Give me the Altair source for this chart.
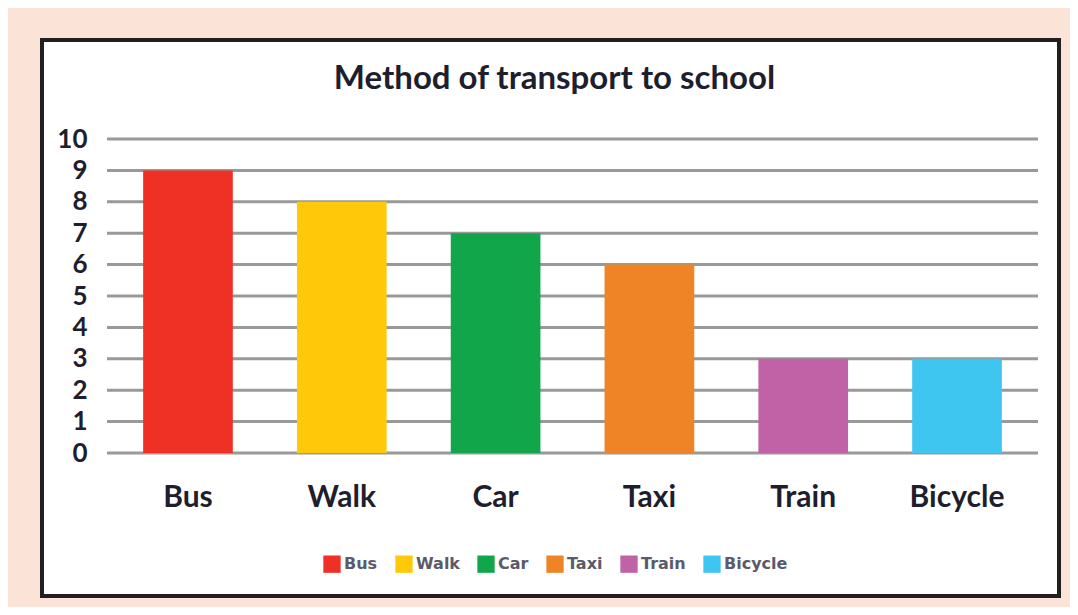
import altair as alt
import pandas as pd

categories = ["Bus", "Walk", "Car", "Taxi", "Train", "Bicycle"]
values = [9, 8, 7, 6, 3, 3]
colors = ["#ee3124", "#ffc90a", "#12a64b", "#ee8425", "#c062a5", "#3ec6f0"]
y_ticks = list(range(0, 11))

FONT = "Lato"
TEXT = "#1e1e2e"

df = pd.DataFrame({"cat": categories, "val": values})
grid_df = pd.DataFrame({"t": y_ticks})

yscale = alt.Scale(domain=[0, 10], nice=False)
yaxis = alt.Axis(
    title=None, values=y_ticks, domain=False, ticks=False, grid=False,
    labelFontSize=26, labelFont=FONT, labelFontWeight="bold",
    labelColor=TEXT, labelPadding=20, zindex=1,
)

frame = alt.Chart(pd.DataFrame({"a": [0]})).mark_rect(
    fill="white", stroke="#231f20", strokeWidth=4, clip=False
).encode(
    x=alt.value(-65), x2=alt.value(952), y=alt.value(-99), y2=alt.value(457)
)

grid = alt.Chart(grid_df).mark_rule(color="#999999", strokeWidth=3).encode(
    y=alt.Y("t:Q", scale=yscale, axis=yaxis)
)

bars = alt.Chart(df).mark_bar().encode(
    x=alt.X(
        "cat:N",
        sort=categories,
        scale=alt.Scale(paddingInner=0.417, paddingOuter=0.235),
        axis=alt.Axis(
            title=None, labelAngle=0, domain=False, ticks=False, grid=False,
            labelFontSize=30, labelFont=FONT, labelFontWeight="bold",
            labelColor=TEXT, labelPadding=29, zindex=1,
        ),
    ),
    y=alt.Y("val:Q", scale=yscale, axis=yaxis),
    color=alt.Color(
        "cat:N",
        sort=categories,
        scale=alt.Scale(domain=categories, range=colors),
        legend=alt.Legend(
            title=None, orient="none", direction="horizontal",
            legendX=216, legendY=416, symbolType="square", symbolSize=300,
            symbolStrokeWidth=0, labelFontSize=16, labelFont="DejaVu Sans",
            labelFontWeight="bold", labelColor="#5a5a6a", columnPadding=17,
            labelOffset=3, zindex=1,
        ),
    ),
)

chart = alt.layer(frame, grid, bars).properties(
    width=931,
    height=314,
    title=alt.TitleParams(
        "Method of transport to school", fontSize=33, font=FONT,
        fontWeight="bold", color=TEXT, anchor="middle", frame="group",
        dx=-18, offset=-58, zindex=1,
    ),
    autosize=alt.AutoSizeParams(type="none"),
    padding={"left": 99, "top": 131, "right": 32, "bottom": 154},
).configure(background="#fce3d7").configure_view(stroke=None)

chart.save("out.html", embed_options={"renderer": "svg", "actions": False})
